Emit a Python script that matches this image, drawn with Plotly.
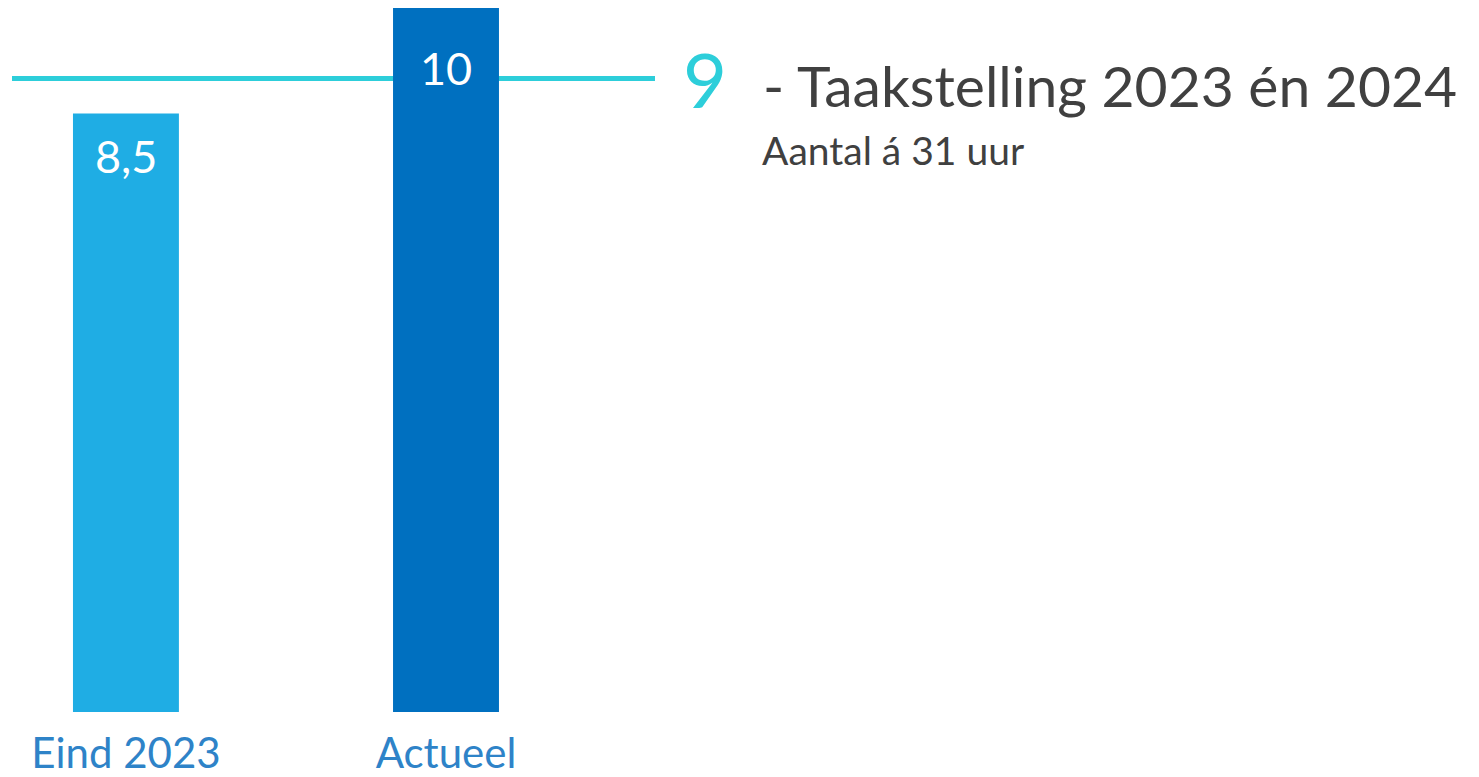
import plotly.graph_objects as go

# ---- data ----
categories = ["Eind 2023", "Actueel"]
values = [8.5, 10]
value_labels = ["8,5", "10"]
target_value = 9
target_label = "9"
target_title = "- Taakstelling 2023 én 2024"
target_subtitle = "Aantal á 31 uur"

# ---- styles ----
bar_colors = ["#1FADE4", "#0070C0"]
label_shift = [-42, -60]
teal = "#2DCEDA"
dark = "#404040"
cat_color = "#2E83C8"
FONT = "Lato"

W, H = 1479, 777
ML, MR, MT, MB = 12, 824, 8, 65

fig = go.Figure()
fig.add_trace(go.Bar(
    x=list(range(len(categories))), y=values,
    marker=dict(color=bar_colors, line=dict(width=0)),
    width=0.331, hoverinfo="skip", showlegend=False,
))

for i, (v, t) in enumerate(zip(values, value_labels)):
    fig.add_annotation(x=i, y=v, xref="x", yref="y", text=t, showarrow=False,
                       yanchor="middle", xanchor="center", yshift=label_shift[i],
                       font=dict(family=FONT, size=45, color="white"))

fig.add_shape(type="line", xref="paper", yref="y", x0=0, x1=1,
              y0=target_value, y1=target_value, layer="below",
              line=dict(color=teal, width=5))

fig.add_annotation(xref="paper", yref="y", x=1.078, y=target_value, text=target_label,
                   showarrow=False, xanchor="center", yanchor="middle",
                   font=dict(family=FONT, size=76, color=teal))
fig.add_annotation(xref="paper", yref="paper", x=1.1645, y=0.891, text=target_title,
                   showarrow=False, xanchor="left", yanchor="middle",
                   font=dict(family=FONT, size=57, color=dark))
fig.add_annotation(xref="paper", yref="paper", x=1.163, y=0.798, text=target_subtitle,
                   showarrow=False, xanchor="left", yanchor="middle",
                   font=dict(family=FONT, size=39, color=dark))

fig.update_layout(
    width=W, height=H,
    margin=dict(l=ML, r=MR, t=MT, b=MB, pad=0, autoexpand=False),
    paper_bgcolor="white", plot_bgcolor="white",
    xaxis=dict(range=[-0.356, 1.653], tickmode="array",
               tickvals=list(range(len(categories))), ticktext=categories,
               showgrid=False, zeroline=False, showline=False, ticks="",
               ticklabelstandoff=13, automargin=False,
               tickfont=dict(family=FONT, size=42, color=cat_color)),
    yaxis=dict(range=[0, 10], visible=False, showgrid=False, zeroline=False,
               automargin=False),
)

fig.write_html("out.html", config={"displayModeBar": False},
               post_script="document.body.style.margin='0';")
